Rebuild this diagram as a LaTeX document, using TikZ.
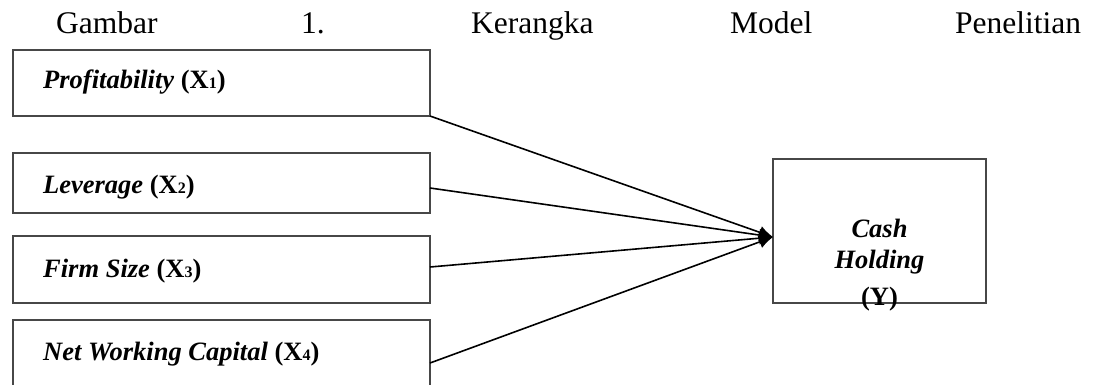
\documentclass[tikz,border=0pt]{standalone}
\usepackage{fontspec}
\setmainfont{Liberation Serif}
\usetikzlibrary{arrows.meta}
\newcommand{\smalld}[1]{{\fontsize{16}{16}\selectfont #1}}
\begin{document}
\begin{tikzpicture}[x=1pt,y=-1pt,
  box/.style={draw=black!72, line width=2pt, inner sep=0pt, outer sep=0pt, anchor=north west},
  lab/.style={anchor=base west, inner sep=0pt, font=\fontsize{26.5}{26.5}\selectfont\bfseries},
  clab/.style={anchor=base, inner sep=0pt, font=\fontsize{26.5}{26.5}\selectfont\bfseries},
  ttl/.style={anchor=base west, inner sep=0pt, font=\fontsize{31.5}{32}\selectfont},
  conn/.style={line width=1.6pt, -{Latex[length=14pt,width=13pt]}}]
\clip (0,0) rectangle (1094,384);
\fill[white] (0,0) rectangle (1094,384);
% title
\node[ttl] (t1) at (56,33) {Gambar};
\node[ttl] (t2) at (301,33) {1.};
\node[ttl] (t3) at (471,33) {Kerangka};
\node[ttl] (t4) at (730,33) {Model};
\node[ttl] (t5) at (955,33) {Penelitian};
% boxes
\node[box, minimum width=417pt, minimum height=66pt] (b1) at (13,50) {};
\node[box, minimum width=417pt, minimum height=60pt] (b2) at (13,153) {};
\node[box, minimum width=417pt, minimum height=67pt] (b3) at (13,236) {};
\node[box, minimum width=417pt, minimum height=90pt] (b4) at (13,320) {};
\node[box, minimum width=213pt, minimum height=144pt] (y) at (773,159) {};
% labels
\node[lab] (l1) at (43,88) {\textit{Profitability} (X\smalld{1})};
\node[lab] (l2) at (43,193) {\textit{Leverage} (X\smalld{2})};
\node[lab] (l3) at (43,277) {\textit{Firm Size} (X\smalld{3})};
\node[lab] (l4) at (43,360) {\textit{Net Working Capital} (X\smalld{4})};
\node[clab] (c1) at (879.5,237) {\textit{Cash}};
\node[clab] (c2) at (879.5,268) {\textit{Holding}};
\node[clab] (c3) at (879.5,305) {(Y)};
% connectors
\coordinate (tip) at (773,237);
\coordinate (s2) at (430,188);
\coordinate (s3) at (430,267);
\coordinate (s4) at (430,363);
\draw[conn] (b1.south east) -- (tip);
\draw[conn] (s2) -- (tip);
\draw[conn] (s3) -- (tip);
\draw[conn] (s4) -- (tip);
\end{tikzpicture}
\end{document}
